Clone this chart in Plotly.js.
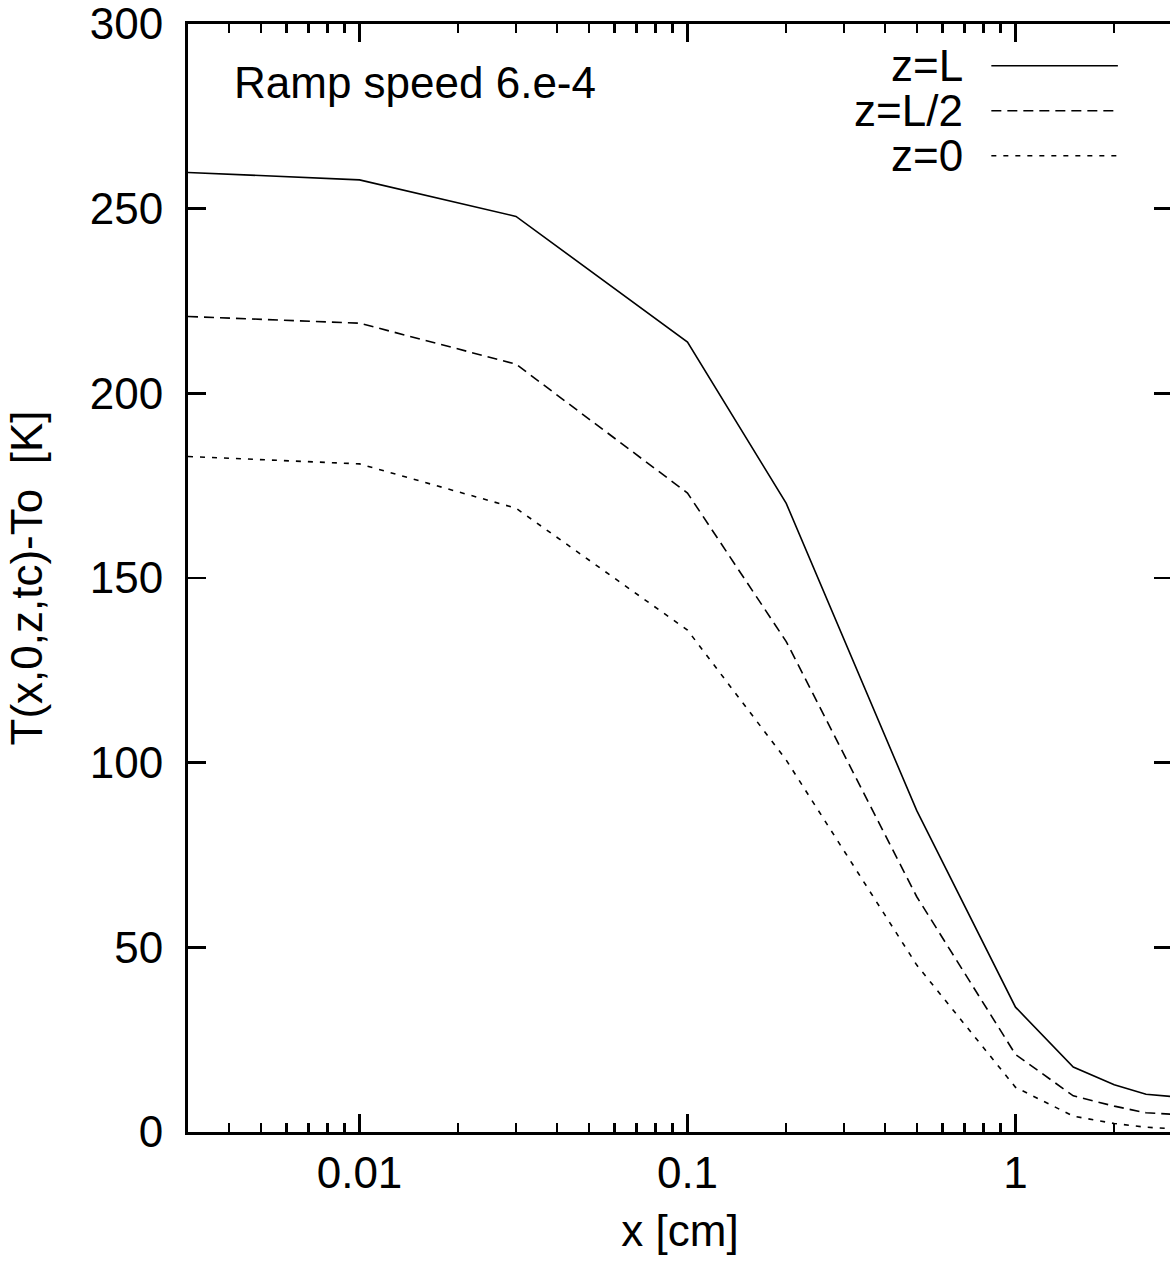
<!DOCTYPE html>
<html>
<head>
<meta charset="utf-8">
<script src="https://cdn.plot.ly/plotly-3.0.1.min.js"></script>
<style>
  html, body { margin: 0; padding: 0; background: #fff; overflow: hidden; }
  #chart { width: 1174px; height: 1274px; }
</style>
</head>
<body>
<div id="chart"></div>
<script>
// x positions [cm]
const xValues = [0.003, 0.01, 0.03, 0.1, 0.2, 0.5, 1, 1.5, 2, 2.5, 3];
// T(x,0,z,tc)-To [K]
const zL  = [259.8, 257.8, 247.9, 213.9, 170.2, 87.0, 33.8, 17.6, 12.8, 10.2, 9.6];
const zL2 = [220.8, 219.0, 207.9, 173.0, 132.8, 63.7, 21.0, 9.8, 7.0, 5.2, 4.8];
const z0  = [182.9, 180.9, 168.9, 135.9, 100.7, 45.2, 12.1, 4.3, 2.3, 1.3, 0.9];
const seriesNames = ['z=L', 'z=L/2', 'z=0'];
const xTickVals = [0.01, 0.1, 1];
const xTickText = ['0.01', '0.1', '1'];
const yTickVals = [0, 50, 100, 150, 200, 250, 300];

const FONT = '"Liberation Sans", Arial, Helvetica, sans-serif';
const dashes = ['solid', '10px,6px', '5px,7px'];
const seriesData = [zL, zL2, z0];

const traces = seriesData.map((ys, i) => ({
  x: xValues, y: ys, type: 'scatter', mode: 'lines', name: seriesNames[i],
  line: {color: '#000', width: 1.6, dash: dashes[i]},
  showlegend: false, hoverinfo: 'x+y'
}));

// manual gnuplot-style legend (text right, sample line left)
const legendY = [0.9623, 0.9217, 0.8811];
const annotations = [{
  xref: 'paper', yref: 'paper', x: 0.045, y: 0.947, xanchor: 'left', yanchor: 'middle',
  text: 'Ramp speed 6.e-4', showarrow: false, font: {family: FONT, size: 44, color: '#000'}
}];
const shapes = [];
seriesNames.forEach((n, i) => {
  annotations.push({
    xref: 'paper', yref: 'paper', x: 0.7893, y: legendY[i], xanchor: 'right', yanchor: 'middle',
    text: n, showarrow: false, font: {family: FONT, size: 44, color: '#000'}
  });
  shapes.push({
    type: 'line', xref: 'paper', yref: 'paper', x0: 0.8164, x1: 0.945, y0: legendY[i], y1: legendY[i],
    line: {color: '#000', width: 1.6, dash: dashes[i]}
  });
});

const layout = {
  width: 1174, height: 1274,
  margin: {l: 188, r: 1.5, t: 24, b: 142, pad: 0},
  paper_bgcolor: '#fff', plot_bgcolor: '#fff',
  font: {family: FONT, size: 44, color: '#000'},
  showlegend: false,
  xaxis: {
    type: 'log', range: [Math.log10(0.003), Math.log10(3)],
    tickmode: 'array', tickvals: xTickVals, ticktext: xTickText,
    ticks: 'inside', ticklen: 18, tickwidth: 2.5, tickcolor: '#000',
    minor: {ticks: 'inside', ticklen: 9, tickwidth: 2.5, tickcolor: '#000', dtick: 'D1', showgrid: false},
    showline: true, linewidth: 3, linecolor: '#000', mirror: 'ticks',
    showgrid: false, zeroline: false,
    tickfont: {family: FONT, size: 44, color: '#000'},
    ticklabelstandoff: 0,
    ticklabeloverflow: 'allow',
    title: {text: 'x [cm]', font: {family: FONT, size: 44, color: '#000'}, standoff: 20},
    automargin: false
  },
  yaxis: {
    range: [0, 300], tickmode: 'array', tickvals: yTickVals,
    ticks: 'inside', ticklen: 18, tickwidth: 2.5, tickcolor: '#000',
    showline: true, linewidth: 3, linecolor: '#000', mirror: 'ticks',
    showgrid: false, zeroline: false,
    tickfont: {family: FONT, size: 44, color: '#000'},
    ticklabelstandoff: 13,
    ticklabeloverflow: 'allow',
    title: {text: 'T(x,0,z,tc)-To  [K]', font: {family: FONT, size: 44, color: '#000'}, standoff: 34},
    automargin: false
  },
  annotations: annotations,
  shapes: shapes
};

Plotly.newPlot('chart', traces, layout, {displayModeBar: false, staticPlot: true});
</script>
</body>
</html>
